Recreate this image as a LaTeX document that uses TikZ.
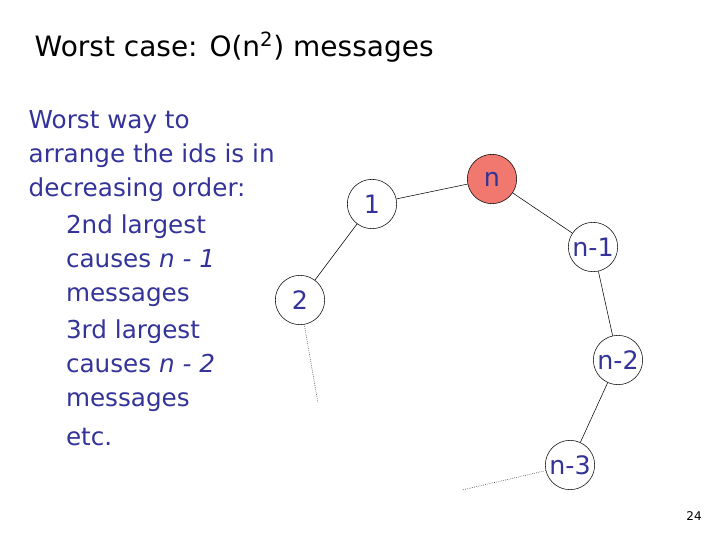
\documentclass[tikz,border=0pt]{standalone}
\usepackage{fontspec}
\setmainfont{DejaVu Sans}
\definecolor{tb}{RGB}{51,51,153}
\begin{document}
\begin{tikzpicture}[x=0.75pt,y=-0.75pt,
  txt/.style={text=tb,font=\fontsize{18.5}{25.5}\selectfont},
  nd/.style={circle,draw=black,thin,minimum size=37pt,inner sep=0pt,text=tb,font=\fontsize{19}{22}\selectfont},
  ln/.style={draw=black,thin}]
\useasboundingbox (0,0) rectangle (720,540);
\node[anchor=west,font=\fontsize{21}{24}\selectfont] (t) at (30,47) {Worst case: O(n\textsuperscript{2}) messages};
\node[txt,anchor=north west,align=left] (b) at (24,106) {Worst way to\\arrange the ids is in\\decreasing order:\\[2pt]
\hspace*{28pt}2nd largest\\\hspace*{28pt}causes \emph{n - 1}\\\hspace*{28pt}messages\\[2pt]\hspace*{28pt}3rd largest\\\hspace*{28pt}causes \emph{n - 2}\\\hspace*{28pt}messages\\[4pt]\hspace*{28pt}etc.};
\node[nd] (n1) at (372,204) {1};
\node[nd,fill={rgb,255:red,240;green,120;blue,110}] (nn) at (492,179) {n};
\node[nd] (nm1) at (593,247) {n-1};
\node[nd] (nm2) at (618,360) {n-2};
\node[nd] (nm3) at (570,465) {n-3};
\node[nd] (n2) at (300,300) {2};
\coordinate (e1) at (318,403);
\coordinate (e2) at (462,490);
\draw[ln] (n2) -- (n1);
\draw[ln] (n1) -- (nn);
\draw[ln] (nn) -- (nm1);
\draw[ln] (nm1) -- (nm2);
\draw[ln] (nm2) -- (nm3);
\draw[ln,densely dotted] (n2) -- (e1);
\draw[ln,densely dotted] (nm3) -- (e2);
\node[font=\fontsize{9}{10}\selectfont] (pg) at (694,516) {24};
\end{tikzpicture}
\end{document}
